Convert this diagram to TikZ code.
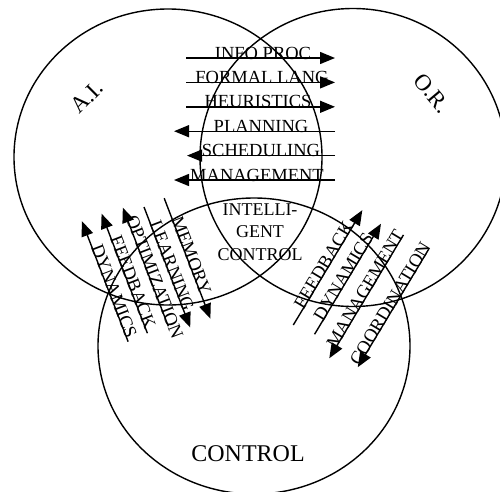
\documentclass[tikz,border=0pt]{standalone}
\usepackage{fontspec}
\setmainfont{Liberation Serif}
\usetikzlibrary{arrows.meta,calc}
\begin{document}
\begin{tikzpicture}[x=1pt,y=-1pt,
  ring/.style={line width=1.4pt},
  arr/.style={line width=1.4pt,-{Triangle[length=15pt,width=12pt]}},
  lab/.style={font=\fontsize{18.5}{22}\selectfont, inner sep=0pt, anchor=south},
  big/.style={font=\fontsize{23}{26}\selectfont, inner sep=0pt}]
\useasboundingbox (0,0) rectangle (500,491);
\begin{scope}
  \clip (0,0) rectangle (500,491);
  \draw[ring] (168,157) ellipse [x radius=154pt, y radius=148pt];
  \draw[ring] (353,157.5) ellipse [x radius=153pt, y radius=149pt];
  \draw[ring] (254,346) ellipse [x radius=156pt, y radius=148pt];
\end{scope}
% circle labels
\node[big, rotate=45] (ai) at (87,97) {A.I.};
\node[big, rotate=-50] (or) at (432,93) {O.R.};
\node[font=\fontsize{24}{26}\selectfont, inner sep=0pt] (ctl) at (248,454) {CONTROL};
\node[font=\fontsize{18}{22.5}\selectfont, inner sep=0pt, align=center] (ic) at (260,232) {INTELLI-\\GENT\\CONTROL};
% horizontal arrows
\coordinate (h1a) at (186,58);    \coordinate (h1b) at (335,58);
\coordinate (h2a) at (186,82.4);  \coordinate (h2b) at (335,82.4);
\coordinate (h3a) at (186,106.8); \coordinate (h3b) at (335,106.8);
\coordinate (h4a) at (174,131.2); \coordinate (h4b) at (335,131.2);
\coordinate (h5a) at (187,155.6); \coordinate (h5b) at (335,155.6);
\coordinate (h6a) at (174,180);   \coordinate (h6b) at (335,180);
\draw[arr] (h1a) -- (h1b);
\draw[arr] (h2a) -- (h2b);
\draw[arr] (h3a) -- (h3b);
\draw[arr] (h4b) -- (h4a);
\draw[arr] (h5b) -- (h5a);
\draw[arr] (h6b) -- (h6a);
\node[lab] (t1) at (263,59.5) {INFO PROC};
\node[lab] (t2) at (262,83.9) {FORMAL LANG};
\node[lab] (t3) at (258,108.3) {HEURISTICS};
\node[lab] (t4) at (261,132.7) {PLANNING};
\node[lab] (t5) at (261,157.1) {SCHEDULING};
\node[lab] (t6) at (257,181.5) {MANAGEMENT};
% left slanted group (AI <-> CONTROL)
\begin{scope}[shift={(104.5,280)}, x={(0.358pt,-0.934pt)}, y={(0.934pt,0.358pt)}]
  \coordinate (l1a) at (66,0);   \coordinate (l1b) at (-63,0);
  \coordinate (l2a) at (65,21);  \coordinate (l2b) at (-63,21);
  \coordinate (l3a) at (66,43);  \coordinate (l3b) at (-61,43);
  \coordinate (l4a) at (-54,63); \coordinate (l4b) at (75,63);
  \coordinate (l5a) at (-55,85); \coordinate (l5b) at (74,85);
  \draw[arr] (l1a) -- (l1b);
  \draw[arr] (l2a) -- (l2b);
  \draw[arr] (l3a) -- (l3b);
  \draw[arr] (l4a) -- (l4b);
  \draw[arr] (l5a) -- (l5b);
  \node[lab, rotate=-69] (d1) at (14,-1.5) {DYNAMICS};
  \node[lab, rotate=-69] (d2) at (12,19.5) {FEEDBACK};
  \node[lab, rotate=-69] (d3) at (15,41.5) {OPTIMIZATION};
  \node[lab, rotate=-69] (d4) at (11,61.5) {LEARNING};
  \node[lab, rotate=-69] (d5) at (8,83.5) {MEMORY};
\end{scope}
% right slanted group (OR <-> CONTROL)
\begin{scope}[shift={(293.3,325)}, x={(0.515pt,0.857pt)}, y={(-0.857pt,0.515pt)}]
  \coordinate (r1a) at (0,0);     \coordinate (r1b) at (134,0);
  \coordinate (r2a) at (3,-23);   \coordinate (r2b) at (132,-23);
  \coordinate (r3a) at (134,-48); \coordinate (r3b) at (-10,-48);
  \coordinate (r4a) at (135,-77); \coordinate (r4b) at (-3,-77);
  \draw[arr] (r1a) -- (r1b);
  \draw[arr] (r2a) -- (r2b);
  \draw[arr] (r3a) -- (r3b);
  \draw[arr] (r4a) -- (r4b);
  \node[lab, rotate=59] (e1) at (67,-1.5) {FEEDBACK};
  \node[lab, rotate=59] (e2) at (67,-24.5) {DYNAMICS};
  \node[lab, rotate=59] (e3) at (68,-49.5) {MANAGEMENT};
  \node[lab, rotate=59] (e4) at (68,-78.5) {COORDINATION};
\end{scope}
\end{tikzpicture}
\end{document}
